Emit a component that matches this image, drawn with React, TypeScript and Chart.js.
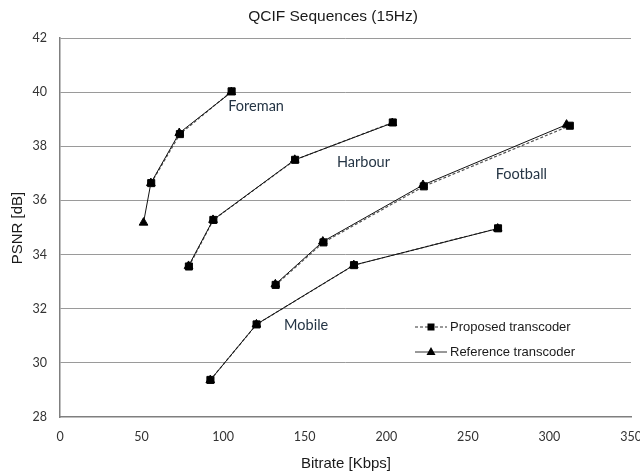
import React, { useEffect, useRef } from "react";
import { Chart, registerables } from "chart.js";

Chart.register(...registerables);

// ---- Data (Bitrate [Kbps] vs PSNR [dB]) ----
const xTicks = [0, 50, 100, 150, 200, 250, 300, 350];
const yTicks = [28, 30, 32, 34, 36, 38, 40, 42];

const foremanRateRef = [51.2, 55.7, 73.1, 105.0];
const foremanPsnrRef = [35.18, 36.64, 38.49, 40.0];
const foremanRateProp = [55.9, 73.5, 105.2];
const foremanPsnrProp = [36.64, 38.45, 40.03];

const harbourRateRef = [78.8, 93.8, 143.9, 203.7];
const harbourPsnrRef = [33.58, 35.28, 37.5, 38.86];
const harbourRateProp = [79.0, 94.0, 144.1, 204.0];
const harbourPsnrProp = [33.56, 35.28, 37.5, 38.88];

const footballRateRef = [132.0, 161.1, 222.5, 310.5];
const footballPsnrRef = [32.9, 34.48, 36.57, 38.8];
const footballRateProp = [132.2, 161.5, 223.0, 312.5];
const footballPsnrProp = [32.88, 34.45, 36.52, 38.76];

const mobileRateRef = [92.1, 120.4, 180.1, 268.3];
const mobilePsnrRef = [29.36, 31.42, 33.61, 34.96];
const mobileRateProp = [92.2, 120.5, 180.2, 268.5];
const mobilePsnrProp = [29.37, 31.42, 33.61, 34.97];

const sequenceNames = ["Foreman", "Harbour", "Football", "Mobile"];
const labelRate = [120.2, 186.0, 282.8, 150.9];
const labelPsnr = [39.47, 37.41, 36.97, 31.39];

const legendLabels = ["Proposed transcoder", "Reference transcoder"];
const chartTitle = "QCIF Sequences (15Hz)";
const xTitle = "Bitrate [Kbps]";
const yTitle = "PSNR [dB]";

const zip = (xs: number[], ys: number[]) => xs.map((x, i) => ({ x, y: ys[i] }));

const refSeries = [
  zip(foremanRateRef, foremanPsnrRef),
  zip(harbourRateRef, harbourPsnrRef),
  zip(footballRateRef, footballPsnrRef),
  zip(mobileRateRef, mobilePsnrRef),
];
const propSeries = [
  zip(foremanRateProp, foremanPsnrProp),
  zip(harbourRateProp, harbourPsnrProp),
  zip(footballRateProp, footballPsnrProp),
  zip(mobileRateProp, mobilePsnrProp),
];

const TICK_FONT = "Lato, 'Open Sans', sans-serif";
const ARIAL = "'Liberation Sans', Arial, sans-serif";

const overlayPlugin = {
  id: "overlay",
  afterDraw(chart: any) {
    const ctx = chart.ctx as CanvasRenderingContext2D;
    const xs = chart.scales.x;
    const ys = chart.scales.y;
    const area = chart.chartArea;
    ctx.save();
    // Title
    ctx.fillStyle = "#1a1a1a";
    ctx.font = `15.5px ${ARIAL}`;
    ctx.textAlign = "center";
    ctx.textBaseline = "middle";
    ctx.fillText(chartTitle, 333, 17);
    // Axis titles
    ctx.font = `15px ${ARIAL}`;
    ctx.fillText(xTitle, 346, 464);
    ctx.save();
    ctx.translate(18, 228);
    ctx.rotate(-Math.PI / 2);
    ctx.fillText(yTitle, 0, 0);
    ctx.restore();
    // Sequence labels
    ctx.fillStyle = "#253545";
    ctx.font = `14.5px ${TICK_FONT}`;
    sequenceNames.forEach((name, i) => {
      ctx.fillText(name, xs.getPixelForValue(labelRate[i]), ys.getPixelForValue(labelPsnr[i]));
    });
    // Legend
    const lx = area.left + 355;
    const ly1 = area.top + 289;
    const ly2 = area.top + 314;
    ctx.strokeStyle = "#333";
    ctx.lineWidth = 1;
    ctx.setLineDash([3, 2]);
    ctx.beginPath();
    ctx.moveTo(lx, ly1);
    ctx.lineTo(lx + 32, ly1);
    ctx.stroke();
    ctx.setLineDash([]);
    ctx.fillStyle = "#000";
    ctx.fillRect(lx + 12.5, ly1 - 3.5, 7, 7);
    ctx.beginPath();
    ctx.moveTo(lx, ly2);
    ctx.lineTo(lx + 32, ly2);
    ctx.stroke();
    ctx.beginPath();
    ctx.moveTo(lx + 16, ly2 - 5);
    ctx.lineTo(lx + 20.5, ly2 + 3);
    ctx.lineTo(lx + 11.5, ly2 + 3);
    ctx.closePath();
    ctx.fill();
    ctx.fillStyle = "#1a1a1a";
    ctx.font = `13px ${ARIAL}`;
    ctx.textAlign = "left";
    ctx.fillText(legendLabels[0], lx + 35, ly1);
    ctx.fillText(legendLabels[1], lx + 35, ly2);
    ctx.restore();
  },
};

export default function App() {
  const ref = useRef<HTMLCanvasElement>(null);
  useEffect(() => {
    document.body.style.margin = "0";
    const canvas = ref.current;
    if (!canvas) return;
    const datasets: any[] = [];
    refSeries.forEach((data, i) => {
      datasets.push({
        label: `${sequenceNames[i]} ref`,
        data,
        showLine: true,
        borderColor: "#111",
        borderWidth: 1,
        pointStyle: "triangle",
        pointRadius: 5,
        pointBackgroundColor: "#000",
        pointBorderColor: "#000",
        pointBorderWidth: 1,
      });
    });
    propSeries.forEach((data, i) => {
      datasets.push({
        label: `${sequenceNames[i]} prop`,
        data,
        showLine: true,
        borderColor: "#555",
        borderWidth: 1.2,
        borderDash: [3, 2],
        pointStyle: "rect",
        pointRadius: 5,
        pointBackgroundColor: "#000",
        pointBorderColor: "#000",
        pointBorderWidth: 1,
      });
    });
    const chart = new Chart(canvas, {
      type: "scatter",
      data: { datasets },
      options: {
        animation: false,
        responsive: false,
        maintainAspectRatio: false,
        layout: { padding: { top: 38, right: 9, left: 0, bottom: 0 } },
        plugins: {
          legend: { display: false },
          title: { display: false },
          tooltip: { enabled: false },
        },
        scales: {
          x: {
            type: "linear",
            min: xTicks[0],
            max: xTicks[xTicks.length - 1],
            afterBuildTicks: (s: any) => {
              s.ticks = xTicks.map((v) => ({ value: v }));
            },
            afterFit: (s: any) => {
              s.height = 57;
              s.paddingLeft = 0;
              s.paddingRight = 0;
            },
            grid: { display: false, drawTicks: false },
            border: { display: true, color: "#7f7f7f", width: 1.5 },
            ticks: {
              padding: 12,
              color: "#333",
              font: { family: TICK_FONT, size: 12.5 },
            },
          },
          y: {
            type: "linear",
            min: yTicks[0],
            max: yTicks[yTicks.length - 1],
            afterBuildTicks: (s: any) => {
              s.ticks = yTicks.map((v) => ({ value: v }));
            },
            afterFit: (s: any) => {
              s.width = 60;
              s.paddingTop = 0;
              s.paddingBottom = 0;
            },
            grid: {
              display: true,
              drawTicks: false,
              color: (c: any) => (c.tick && c.tick.value === yTicks[0] ? "rgba(0,0,0,0)" : "#9a9a9a"),
              lineWidth: 1,
            },
            border: { display: true, color: "#7f7f7f", width: 1.5 },
            ticks: {
              padding: 13,
              color: "#333",
              font: { family: TICK_FONT, size: 12.5 },
            },
          },
        },
      },
      plugins: [overlayPlugin],
    });
    return () => chart.destroy();
  }, []);
  return (
    <div style={{ width: 640, height: 474 }}>
      <canvas ref={ref} width={640} height={474} style={{ display: "block" }} />
    </div>
  );
}
